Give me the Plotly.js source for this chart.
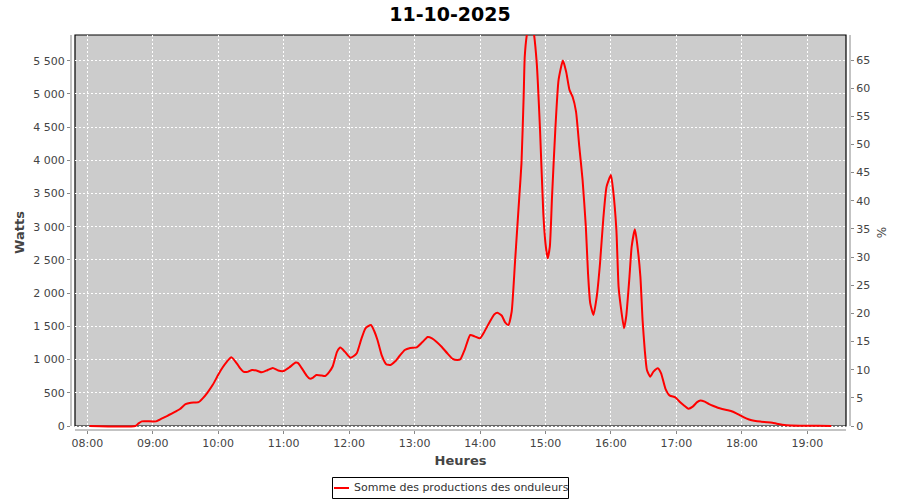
<!DOCTYPE html>
<html>
<head>
<meta charset="utf-8">
<script src="https://cdn.plot.ly/plotly-3.0.1.min.js"></script>
<style>html,body{margin:0;padding:0;background:#fff;}#chart{width:900px;height:500px;}</style>
</head>
<body>
<div id="chart"></div>
<script>
// ---- data ----
var day = "2025-10-11";
var times = [
 "08:02","08:44","08:47","08:50","09:03","09:08","09:13","09:19","09:25","09:30",
 "09:35","09:42","09:46","09:50","09:55","10:00","10:04","10:08","10:12","10:17",
 "10:20","10:23","10:27","10:31","10:35","10:40","10:45","10:50","10:55","11:00",
 "11:05","11:11","11:13","11:17","11:21","11:24","11:27","11:30","11:35","11:38",
 "11:42","11:45","11:49","11:52","11:56","12:01","12:04","12:07","12:11","12:15",
 "12:20","12:23","12:26","12:30","12:34","12:38","12:42","12:46","12:51","12:56",
 "13:02","13:07","13:12","13:16","13:20","13:25","13:30","13:35","13:39","13:42",
 "13:46","13:51","13:55","14:00","14:04","14:09","14:13","14:16","14:20","14:23",
 "14:26","14:29","14:32","14:34","14:36","14:38","14:40","14:41","14:43","14:46",
 "14:49","14:52","14:55","14:58","15:00","15:02","15:04","15:06","15:09","15:12",
 "15:16","15:19","15:22","15:25","15:28","15:31","15:34","15:37","15:39","15:41",
 "15:44","15:47","15:50","15:53","15:56","16:00","16:02","16:05","16:07","16:09",
 "16:12","16:14","16:17","16:19","16:22","16:24","16:27","16:29","16:31","16:33",
 "16:36","16:39","16:43","16:46","16:50","16:54","16:59","17:03","17:07","17:11",
 "17:15","17:19","17:22","17:26","17:30","17:34","17:38","17:42","17:46","17:50",
 "17:55","17:59","18:04","18:09","18:14","18:18","18:23","18:28","18:32","18:37",
 "18:45","18:58","19:10","19:22"
];
var watts = [
 0,0,40,70,70,110,150,200,256,330,
 350,360,420,500,620,770,880,970,1035,944,
 870,818,815,843,835,808,840,873,835,828,
 880,955,950,860,760,713,730,768,760,753,
 820,900,1120,1180,1119,1029,1050,1095,1300,1471,
 1521,1430,1295,1060,930,919,970,1050,1145,1175,
 1185,1260,1340,1320,1270,1190,1095,1010,994,1004,
 1150,1370,1350,1320,1420,1571,1680,1706,1660,1560,
 1521,1720,2450,2952,3450,3956,4960,5562,5900,6150,
 5950,5462,4458,3203,2750,2525,2700,3453,4458,5211,
 5502,5330,5060,4950,4733,4206,3705,3000,2300,1850,
 1672,1947,2450,3120,3604,3780,3554,2950,2098,1800,
 1471,1650,2249,2700,2962,2751,2249,1596,1145,843,
 742,818,869,793,560,457,432,366,310,261,
 291,360,385,366,330,301,275,256,240,226,
 190,155,115,86,70,65,58,50,35,20,
 8,4,2,0
];
var seriesName = "Somme des productions des onduleurs";
var chartTitle = "11-10-2025";
var xTitle = "Heures";
var yTitle = "Watts";
var y2Title = "%";

// ---- layout geometry ----
var W = 900, H = 500;
var M = {l: 71, r: 50, t: 35, b: 70, autoexpand: false};
var pw = W - M.l - M.r, ph = H - M.t - M.b;
var gap = 4;
var fx = function(px){ return px / pw; };
var fy = function(px){ return px / ph; };
// absolute page pixel -> paper coords
var PX = function(px){ return (px - M.l) / pw; };
var PY = function(py){ return (H - M.b - py) / ph; };

var xs = times.map(function(t){ return day + " " + t + ":00"; });

var lineColor = "#ff0000";
var trace = {
  x: xs, y: watts, type: "scatter", mode: "lines",
  name: seriesName, showlegend: false,
  line: {color: lineColor, width: 2, shape: "spline", smoothing: 0.5},
  hoverinfo: "skip"
};
var dummy = {x: [], y: [], yaxis: "y2", type: "scatter", mode: "lines", showlegend: false, hoverinfo: "skip"};

var tickFont = {family: "DejaVu Sans, sans-serif", size: 11, color: "#444444"};
var axisGrey = "#888888";

var layout = {
  width: W, height: H,
  margin: M,
  paper_bgcolor: "#ffffff",
  plot_bgcolor: "rgba(0,0,0,0)",
  separators: ", ",
  showlegend: false,
  title: {text: "<b>" + chartTitle + "</b>", x: 0.5, xanchor: "center", y: 0.972, yanchor: "middle",
          font: {family: "DejaVu Sans, sans-serif", size: 19, color: "#000000"}},
  xaxis: {
    type: "date",
    range: [day + " 07:45:03", day + " 19:39:09"],
    dtick: 3600000, tick0: day + " 08:00:00",
    tickformat: "%H:%M",
    ticks: "outside", ticklen: 3, tickcolor: axisGrey,
    tickfont: tickFont,
    showline: false, zeroline: false,
    showgrid: true, gridcolor: "#ffffff", griddash: "2px,2px", gridwidth: 1,
    title: {text: "<b>" + xTitle + "</b>", standoff: 6,
            font: {family: "DejaVu Sans, sans-serif", size: 13, color: "#444444"}},
    fixedrange: true
  },
  yaxis: {
    range: [-60.2, 5886.4],
    dtick: 500, tick0: 0,
    tickformat: ",d",
    ticks: "outside", ticklen: 3, tickcolor: axisGrey,
    tickfont: tickFont,
    showline: false, zeroline: false,
    showgrid: true, gridcolor: "#ffffff", griddash: "2px,2px", gridwidth: 1,
    title: {text: "<b>" + yTitle + "</b>", standoff: 5,
            font: {family: "DejaVu Sans, sans-serif", size: 13, color: "#444444"}},
    fixedrange: true
  },
  yaxis2: {
    overlaying: "y", side: "right",
    range: [-0.71, 69.44],
    dtick: 5, tick0: 0,
    ticks: "outside", ticklen: 3, tickcolor: axisGrey,
    tickfont: tickFont,
    showline: false, zeroline: false, showgrid: false,
    title: {text: y2Title, standoff: 8,
            font: {family: "DejaVu Sans, sans-serif", size: 12, color: "#444444"}},
    fixedrange: true
  },
  annotations: [
    {xref: "paper", yref: "paper", x: PX(352), y: PY(488), xanchor: "left", yanchor: "middle",
     text: seriesName, showarrow: false,
     font: {family: "DejaVu Sans, sans-serif", size: 11, color: "#333333"}}
  ],
  shapes: [
    {type: "rect", xref: "paper", yref: "paper", layer: "below",
     x0: fx(gap), x1: 1 - fx(gap), y0: fy(gap), y1: 1,
     fillcolor: "#cccccc", line: {width: 0}},
    {type: "rect", xref: "paper", yref: "paper", layer: "between",
     x0: fx(gap), x1: 1 - fx(gap), y0: fy(gap), y1: 1,
     fillcolor: "rgba(0,0,0,0)", line: {color: "#000000", width: 1.2}},
    {type: "line", xref: "paper", yref: "paper", layer: "above",
     x0: 0, x1: 0, y0: fy(gap), y1: 1, line: {color: axisGrey, width: 1}},
    {type: "line", xref: "paper", yref: "paper", layer: "above",
     x0: 1, x1: 1, y0: fy(gap), y1: 1, line: {color: axisGrey, width: 1}},
    {type: "line", xref: "paper", yref: "paper", layer: "above",
     x0: fx(gap), x1: 1 - fx(gap), y0: 0, y1: 0, line: {color: axisGrey, width: 1}},
    // legend box and sample
    {type: "rect", xref: "paper", yref: "paper", layer: "above",
     x0: PX(332.5), x1: PX(568.5), y0: PY(498.5), y1: PY(477.5),
     fillcolor: "#ffffff", line: {color: "#000000", width: 1}},
    {type: "line", xref: "paper", yref: "paper", layer: "above",
     x0: PX(334), x1: PX(349), y0: PY(488), y1: PY(488),
     line: {color: lineColor, width: 2}}
  ]
};

Plotly.newPlot("chart", [trace, dummy], layout, {displayModeBar: false, staticPlot: true});
</script>
</body>
</html>
